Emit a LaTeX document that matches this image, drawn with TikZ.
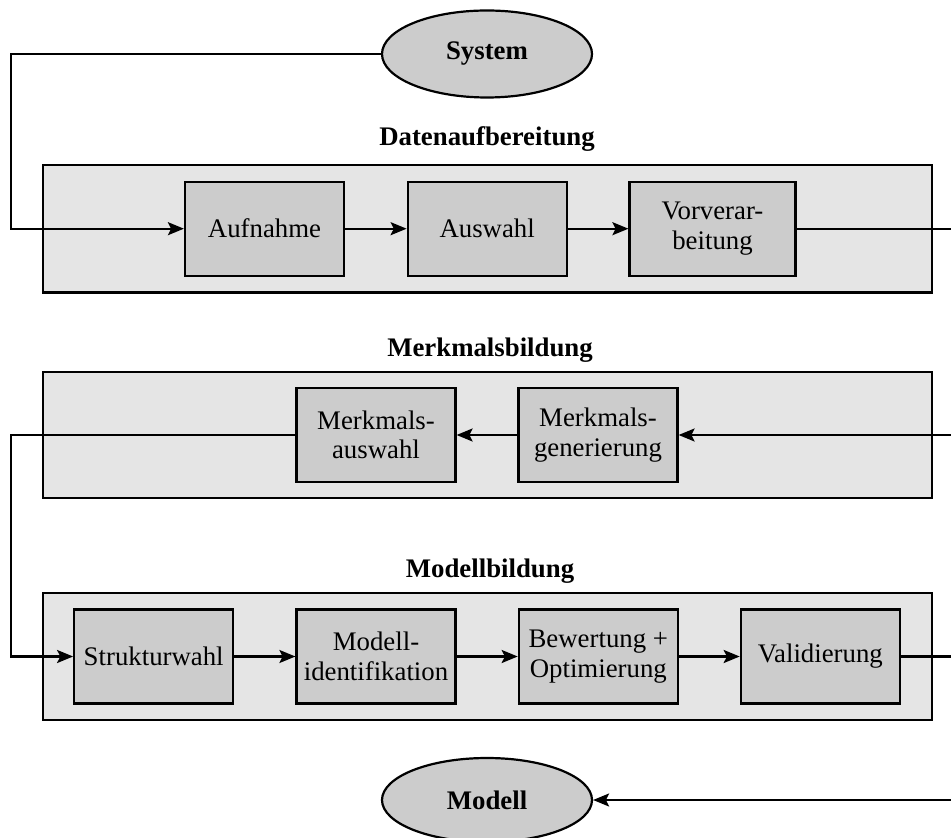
\documentclass[tikz,border=0pt]{standalone}
\usepackage{fontspec}
\setmainfont{Liberation Serif}
\usetikzlibrary{arrows.meta,shapes.geometric}
\newcommand{\diagfont}{\fontsize{13.4}{14.7}\selectfont}
\begin{document}
\begin{tikzpicture}[x=0.5pt,y=-0.5pt,
  stage/.style={draw=black, line width=1.1pt, fill=black!10, inner sep=0pt},
  block/.style={draw=black, line width=1.1pt, fill=black!20, inner sep=0pt,
    minimum width=79.5pt, minimum height=47pt, align=center, font=\diagfont},
  terminal/.style={ellipse, draw=black, line width=1.1pt, fill=black!20, inner sep=0pt,
    minimum width=105pt, minimum height=43.5pt, font=\diagfont\bfseries},
  title/.style={anchor=base, font=\diagfont\bfseries},
  flow/.style={line width=1.1pt, -{Stealth[length=8pt,width=6.5pt,inset=1.6pt]}}]
\useasboundingbox (0,0) rectangle (951,838);
\clip (0,0) rectangle (951,838);

% stage frames
\node[stage, minimum width=444.5pt, minimum height=63.8pt] (daten) at (487.2,228.8) {};
\node[stage, minimum width=444.5pt, minimum height=63.3pt] (merkmal) at (487.2,435) {};
\node[stage, minimum width=444.5pt, minimum height=63.3pt] (modell) at (487.2,656.6) {};

% stage titles
\node[title] (tdaten) at (487,146) {Datenaufbereitung};
\node[title] (tmerkmal) at (490,356.7) {Merkmalsbildung};
\node[title] (tmodell) at (490,577.3) {Modellbildung};

% start and end
\node[terminal] (system) at (487,54) {System};
\node[terminal, minimum height=42pt] (ergebnis) at (487,800) {Modell};

% data preparation
\node[block] (aufnahme) at (264.5,228.7) {Aufnahme};
\node[block] (auswahl) at (487.2,228.7) {Auswahl};
\node[block, minimum width=83pt] (vorv) at (712.5,228.7) {Vorverar-\\beitung};

% feature extraction
\node[block] (mauswahl) at (376,435) {Merkmals-\\auswahl};
\node[block] (mgen) at (598,435) {Merkmals-\\generierung};

% model building
\node[block] (struktur) at (153.7,656.5) {Strukturwahl};
\node[block] (ident) at (376,656.5) {Modell-\\identifikation};
\node[block] (bewert) at (598.3,656.5) {Bewertung +\\Optimierung};
\node[block] (valid) at (820.3,656.5) {Validierung};

% turning points of the connectors
\coordinate (l1) at (11.3,54);
\coordinate (l2) at (11.3,228.7);
\coordinate (r1) at (970,228.7);
\coordinate (r2) at (970,435);
\coordinate (l3) at (11.3,435);
\coordinate (l4) at (11.3,656.5);
\coordinate (r3) at (970,656.5);
\coordinate (r4) at (970,800);

\draw[flow] (system.west) -- (l1) -- (l2) -- (aufnahme.west);
\draw[flow] (aufnahme) -- (auswahl);
\draw[flow] (auswahl) -- (vorv);
\draw[flow] (vorv.east) -- (r1) -- (r2) -- (mgen.east);
\draw[flow] (mgen) -- (mauswahl);
\draw[flow] (mauswahl.west) -- (l3) -- (l4) -- (struktur.west);
\draw[flow] (struktur) -- (ident);
\draw[flow] (ident) -- (bewert);
\draw[flow] (bewert) -- (valid);
\draw[flow] (valid.east) -- (r3) -- (r4) -- (ergebnis.east);
\end{tikzpicture}
\end{document}
